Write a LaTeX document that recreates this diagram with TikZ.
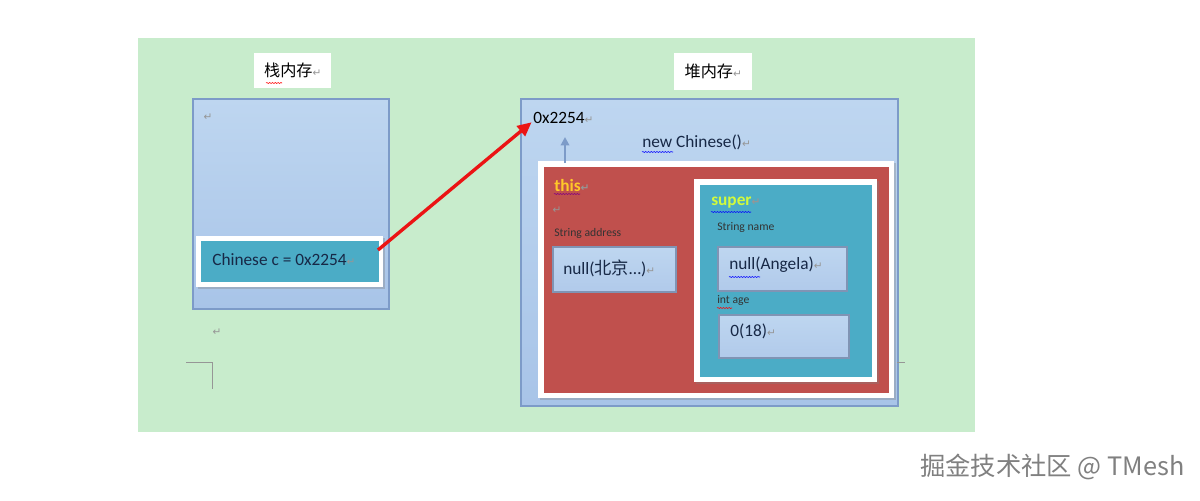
\documentclass[tikz,border=0pt]{standalone}
\usepackage{fontspec}
\setmainfont{Carlito}
\newfontfamily\cjkfont{Noto Sans CJK SC}
\newfontfamily\symfont{DejaVu Sans}
\usetikzlibrary{positioning}
\usetikzlibrary{shadows}
\usetikzlibrary{arrows.meta}
\usetikzlibrary{decorations.pathmorphing}

\definecolor{bggreen}{RGB}{200,236,204}
\definecolor{boxtop}{RGB}{190,214,240}
\definecolor{boxbot}{RGB}{168,196,232}
\definecolor{boxline}{RGB}{125,155,200}
\definecolor{valline}{RGB}{128,148,180}
\definecolor{tealfill}{RGB}{75,172,198}
\definecolor{redfill}{RGB}{192,80,77}
\definecolor{thisyellow}{RGB}{255,200,40}
\definecolor{supergreen}{RGB}{210,250,60}
\definecolor{navytext}{RGB}{23,40,70}
\definecolor{retgray}{RGB}{150,150,150}
\definecolor{ptrred}{RGB}{235,20,20}

\newcommand{\ret}{{\symfont\fontsize{7.5}{7.5}\selectfont\textcolor{retgray}{↵}}}

\tikzset{
  memobox/.style={draw=boxline, line width=1.4pt, top color=boxtop, bottom color=boxbot, inner sep=0pt, anchor=north west},
  framebox/.style={fill=white, inner sep=0pt, anchor=north west,
    drop shadow={shadow xshift=1.2pt, shadow yshift=-1.2pt, opacity=.35}},
  valbox/.style={draw=valline, line width=1.3pt, top color=boxtop, bottom color=boxbot!90!white, inner sep=0pt, anchor=north west},
  titlebox/.style={fill=white, inner sep=0pt, anchor=north west, font=\cjkfont\fontsize{11.5}{12}\selectfont},
  txt/.style={inner sep=0pt, anchor=west, text=navytext, font=\fontsize{12.3}{14}\selectfont},
  small/.style={inner sep=0pt, anchor=west, text=black!80, font=\fontsize{8.3}{10}\selectfont},
  squig/.style={decorate, decoration={snake, amplitude=0.35pt, segment length=2pt}, line width=0.4pt},
}

\begin{document}
\begin{tikzpicture}[x=0.025cm,y=-0.025cm]
\useasboundingbox (0,0) rectangle (1200,500);
\fill[white] (0,0) rectangle (1200,500);
\fill[bggreen] (138,38) rectangle (975,432);

% stack side
\node[titlebox, minimum width=1.925cm, minimum height=0.875cm] (stacklabel) at (254,53) {栈内存\ret};
\node[memobox, minimum width=4.9cm, minimum height=5.25cm] (stack) at (192,98) {};
\node[inner sep=0pt] (stackret) at (208,117) {\ret};
\node[framebox, minimum width=4.675cm, minimum height=1.275cm] (varframe) at (196,236) {};
\node[fill=tealfill, inner sep=0pt, minimum width=4.45cm, minimum height=1.025cm] (var) at (varframe.center) {};
\node[txt] (vartext) at (212,260) {Chinese c = 0x2254\ret};
\node[inner sep=0pt] (belowret) at (217,332) {\ret};
\draw[retgray, line width=0.6pt] (186,362) -- (212,362) -- (212,389);

% heap side
\node[titlebox, minimum width=1.95cm, minimum height=0.925cm] (heaplabel) at (674,53) {堆内存\ret};
\node[memobox, minimum width=9.425cm, minimum height=7.675cm] (heap) at (520,98) {};
\node[txt, text=black] (addr) at (533,118) {0x2254\ret};
\node[txt] (newobj) at (642,142) {new Chinese()\ret};
\draw[retgray, line width=0.6pt] (897,362) -- (905,362);

% this object
\node[framebox, minimum width=8.9cm, minimum height=5.925cm] (thisframe) at (538,161) {};
\node[fill=redfill, inner sep=0pt, minimum width=8.625cm, minimum height=5.65cm] (thisobj) at (thisframe.center) {};
\coordinate (objtop) at (565,163);
\coordinate (uptip) at (565,137);
\draw[boxline, line width=1.6pt, -{Triangle[length=6pt,width=6pt]}] (objtop) -- (uptip);
\node[txt, text=thisyellow, font=\fontsize{12.3}{14}\bfseries] (thislabel) at (554,185) {this\ret};
\node[inner sep=0pt] (thisret) at (557,210) {\ret};
\node[small] (addrlabel) at (554,233) {String address};
\node[valbox, minimum width=3.075cm, minimum height=1.125cm] (addrval) at (552,246) {};
\node[txt] (addrtext) at (563,268) {null({\cjkfont 北京}…)\ret};

% super object
\node[framebox, minimum width=4.575cm, minimum height=5.075cm] (superframe) at (694,179) {};
\node[fill=tealfill, inner sep=0pt, minimum width=4.3cm, minimum height=4.8cm] (superobj) at (superframe.center) {};
\node[txt, text=supergreen, font=\fontsize{12.3}{14}\bfseries] (superlabel) at (711,203) {super\ret};
\node[small] (namelabel) at (717,227) {String name};
\node[valbox, minimum width=3.225cm, minimum height=1.1cm] (nameval) at (717,246) {};
\node[txt] (nametext) at (729,265) {null(Angela)\ret};
\node[small] (agelabel) at (717,300) {int age};
\node[valbox, minimum width=3.25cm, minimum height=1.075cm] (ageval) at (718,314) {};
\node[txt] (agetext) at (730,331) {0(18)\ret};

% pointer
\coordinate (ptrfrom) at (378,250);
\draw[ptrred, line width=2.4pt, -{Triangle[length=10pt,width=9pt]}] (ptrfrom) -- ([xshift=-1pt,yshift=-3pt]addr.west);

% spelling marks
\draw[squig, red] (266,83) -- (282,83);
\draw[squig, violet] (554,194) -- (580,194);
\draw[squig, blue] (711,212) -- (751,212);
\draw[squig, blue] (642,152) -- (673,152);
\draw[squig, blue] (729,277) -- (760,277);
\draw[squig, red] (717,308) -- (732,308);

% watermark
\node[inner sep=0pt, anchor=west, text=black!50, font=\cjkfont\fontsize{18}{20}\selectfont] (mark) at (920,467) {掘金技术社区 @ TMesh};
\end{tikzpicture}
\end{document}
